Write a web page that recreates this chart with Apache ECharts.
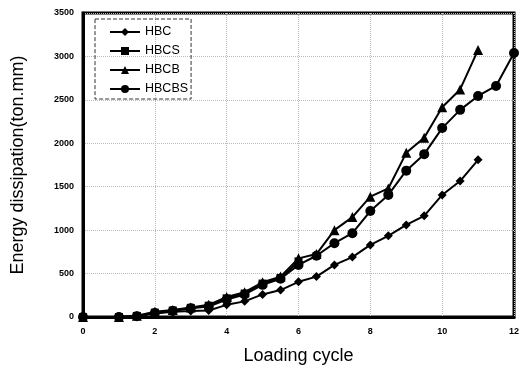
<!DOCTYPE html>
<html>
<head>
<meta charset="utf-8">
<script src="https://cdn.jsdelivr.net/npm/echarts@6/dist/echarts.min.js"></script>
<style>html,body{margin:0;padding:0;background:#fff}#c{width:532px;height:371px}</style>
</head>
<body>
<div id="c"></div>
<script>
var cycles = [0,1,1.5,2,2.5,3,3.5,4,4.5,5,5.5,6,6.5,7,7.5,8,8.5,9,9.5,10,10.5,11];
var cyclesHBCS = [0,1,1.5,2,2.5,3,3.5,4,4.5,5,5.5,6];
var cyclesHBCBS = [0,1,1.5,2,2.5,3,3.5,4,4.5,5,5.5,6,6.5,7,7.5,8,8.5,9,9.5,10,10.5,11,11.5,12];
var HBC = [0,0,10,40,60,70,75,140,180,260,310,405,465,600,690,830,935,1060,1165,1405,1565,1810];
var HBCS = [0,0,12,50,75,105,130,215,270,385,450,640];
var HBCB = [0,0,15,60,80,110,140,230,285,400,465,675,725,1000,1150,1385,1480,1890,2065,2415,2620,3075];
var HBCBS = [0,0,10,45,70,100,120,200,260,370,440,600,705,850,965,1220,1405,1685,1875,2175,2385,2545,2660,3040];
var seriesNames = ['HBC','HBCS','HBCB','HBCBS'];
var yTicks = {min:0, max:3500, interval:500};
var xTicks = {min:0, max:12, interval:2};

function pairs(xs, ys){ return xs.map(function(x,i){ return [x, ys[i]]; }); }

var chart = echarts.init(document.getElementById('c'));
var font = 'Liberation Sans, Arial, sans-serif';
function mk(name, xs, ys, sym, size, z){
  return {name:name, type:'line', data:pairs(xs,ys), symbol:sym, symbolSize:size, z:z,
    lineStyle:{color:'#000', width:2}, itemStyle:{color:'#000'}, animation:false};
}
chart.setOption({
  backgroundColor:'#fff',
  animation:false,
  grid:{left:83, right:18, top:13, bottom:54, show:true, borderColor:'#000', borderWidth:3},
  legend:{orient:'vertical', left:95, top:19, data:seriesNames,
    borderColor:'#333', borderWidth:1, borderType:'dashed', padding:[6,3,3,14],
    itemWidth:30, itemHeight:10, itemGap:5,
    textStyle:{fontFamily:font, fontSize:12.5, color:'#000', lineHeight:14}},
  xAxis:{type:'value', min:xTicks.min, max:xTicks.max, interval:xTicks.interval,
    name:'Loading cycle', nameLocation:'middle', nameGap:30,
    nameTextStyle:{fontFamily:font, fontSize:18, color:'#000'},
    axisLine:{lineStyle:{color:'#000', width:3}}, axisTick:{show:false},
    axisLabel:{fontFamily:font, fontSize:9, color:'#000', margin:10, fontWeight:'bold'},
    splitLine:{show:true, lineStyle:{color:'#bbb', type:'dotted', width:1}}},
  yAxis:{type:'value', min:yTicks.min, max:yTicks.max, interval:yTicks.interval,
    name:'Energy dissipation(ton.mm)', nameLocation:'middle', nameGap:56,
    nameTextStyle:{fontFamily:font, fontSize:18, color:'#000'},
    axisLine:{show:true, lineStyle:{color:'#000', width:3}}, axisTick:{show:false},
    axisLabel:{fontFamily:font, fontSize:9, color:'#000', margin:9, fontWeight:'bold',
      formatter:function(v){ return String(v); }},
    splitLine:{show:true, lineStyle:{color:'#bbb', type:'dotted', width:1}}},
  series:[
    mk('HBC', cycles, HBC, 'diamond', 9, 4),
    mk('HBCS', cyclesHBCS, HBCS, 'rect', 8, 2),
    mk('HBCB', cycles, HBCB, 'triangle', 10, 3),
    mk('HBCBS', cyclesHBCBS, HBCBS, 'circle', 10, 5)
  ]
});
</script>
</body>
</html>
